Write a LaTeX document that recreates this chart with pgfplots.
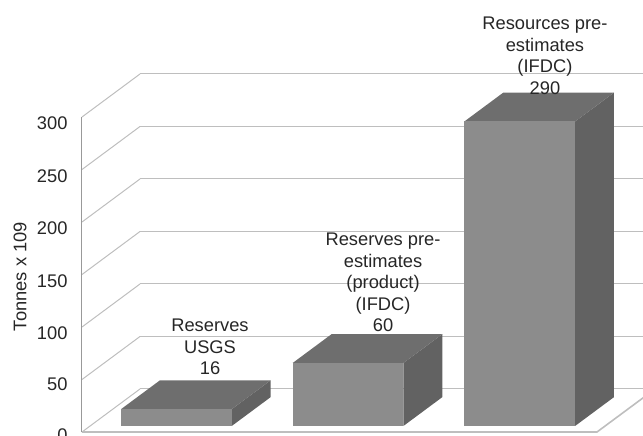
\documentclass[border=0pt]{standalone}
\usepackage{fontspec}
\setmainfont{Liberation Sans}
\usepackage{pgfplots}
\pgfplotsset{compat=1.18}
\definecolor{barfront}{HTML}{8C8C8C}
\definecolor{bartop}{HTML}{6E6E6E}
\definecolor{barside}{HTML}{626262}
\definecolor{gridgray}{HTML}{BEBEBE}
\definecolor{txt}{HTML}{262626}
\newcommand{\chartfont}{\fontsize{18.3}{21.5}\selectfont}

\begin{document}
\begin{tikzpicture}[font=\chartfont]
\begin{axis}[
  at={(0pt,0pt)}, anchor=origin,
  x={(171.67pt,0pt)}, y={(58pt,43pt)}, z={(0pt,1.05pt)},
  xmin=0, xmax=3, ymin=0, ymax=1, zmin=0, zmax=300,
  xtick=\empty, ytick=\empty, ztick={0,50,...,300},
  zmajorgrids, major grid style={gridgray, line width=1pt},
  axis line style={draw=none},
  major tick length=0pt,
  /pgf/number format/assume math mode=true,
  ticklabel style={font=\chartfont, text=txt},
  zticklabel style={xshift=-11pt},
  clip=false,
]
% floor and value axis
\addplot3[gridgray, line width=1.6pt, mark=none] coordinates {(0,0,0) (3,0,0) (3,1,0)};
\addplot3[gray!80, line width=1pt, mark=none] coordinates {(0,0,0) (0,0,300)};

% Reserves USGS: 16
\addplot3[fill=barside, draw=none, mark=none] coordinates {(0.825,0.14,0) (0.825,0.81,0) (0.825,0.81,16) (0.825,0.14,16)};
\addplot3[fill=bartop, draw=none, mark=none] coordinates {(0.18,0.14,16) (0.825,0.14,16) (0.825,0.81,16) (0.18,0.81,16)};
\addplot3[fill=barfront, draw=none, mark=none] coordinates {(0.18,0.14,0) (0.825,0.14,0) (0.825,0.14,16) (0.18,0.14,16)};

% Reserves pre-estimates (product): 60
\addplot3[fill=barside, draw=none, mark=none] coordinates {(1.825,0.14,0) (1.825,0.81,0) (1.825,0.81,60) (1.825,0.14,60)};
\addplot3[fill=bartop, draw=none, mark=none] coordinates {(1.18,0.14,60) (1.825,0.14,60) (1.825,0.81,60) (1.18,0.81,60)};
\addplot3[fill=barfront, draw=none, mark=none] coordinates {(1.18,0.14,0) (1.825,0.14,0) (1.825,0.14,60) (1.18,0.14,60)};

% Resources pre-estimates: 290
\addplot3[fill=barside, draw=none, mark=none] coordinates {(2.825,0.14,0) (2.825,0.81,0) (2.825,0.81,290) (2.825,0.14,290)};
\addplot3[fill=bartop, draw=none, mark=none] coordinates {(2.18,0.14,290) (2.825,0.14,290) (2.825,0.81,290) (2.18,0.81,290)};
\addplot3[fill=barfront, draw=none, mark=none] coordinates {(2.18,0.14,0) (2.825,0.14,0) (2.825,0.14,290) (2.18,0.14,290)};

\node[anchor=south, align=center, inner sep=0pt, text=txt, yshift=5pt] at (axis cs:0.472,0.81,16) {Reserves\\USGS\\16};
\node[anchor=south, align=center, inner sep=0pt, text=txt, yshift=2pt] at (axis cs:1.48,0.81,60) {Reserves pre-\\estimates\\(product)\\(IFDC)\\60};
\node[anchor=south, align=center, inner sep=0pt, text=txt, yshift=-2pt] at (axis cs:2.423,0.81,290) {Resources pre-\\estimates\\(IFDC)\\290};

% value axis title
\node[rotate=90, anchor=center, inner sep=0pt, text=txt] at ([xshift=-62pt]axis cs:0,0,148) {Tonnes x 109};
\end{axis}
\pgfresetboundingbox
\path[use as bounding box] (-82pt,-4pt) rectangle (561pt,432pt);
\end{tikzpicture}
\end{document}
